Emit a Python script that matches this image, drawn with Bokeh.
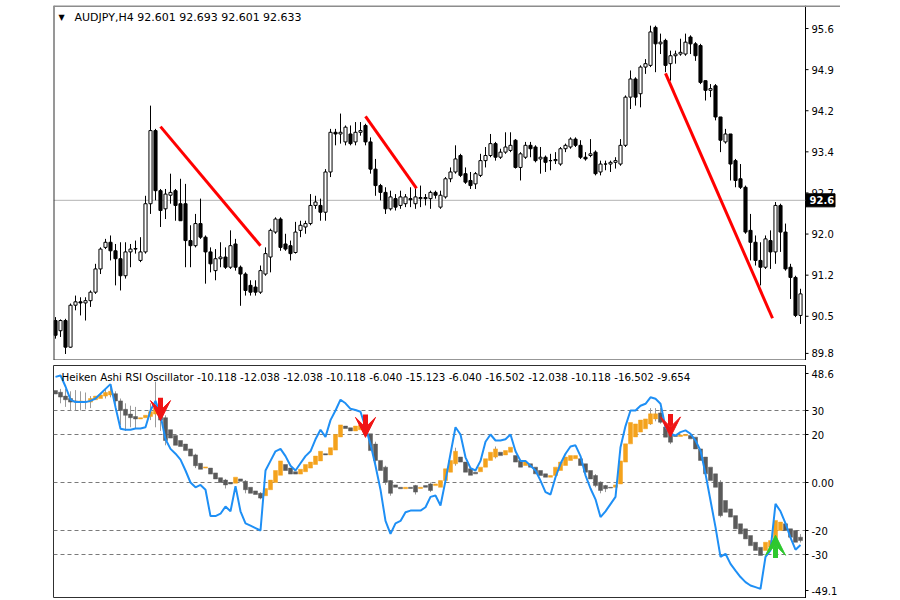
from bokeh.plotting import figure
from bokeh.models import (Range1d, FixedTicker, Span, Label, Arrow, VeeHead,
                          ColumnDataSource)
from bokeh.core.properties import value
from bokeh.layouts import column
from bokeh.embed import file_html
from bokeh.resources import INLINE

# ---------------- price data (AUDJPY H4) ----------------
opens = [90.45, 90.27, 90.45, 89.98, 90.72, 90.78, 90.76, 90.80, 90.95, 91.36,
         91.74, 91.83, 91.68, 91.54, 91.24, 91.66, 91.71, 91.51, 91.66, 92.51,
         93.80, 92.74, 92.42, 92.66, 92.74, 92.51, 92.51, 91.86, 91.77, 92.16,
         91.92, 91.66, 91.33, 91.54, 91.57, 91.39, 91.80, 91.39, 91.27, 91.07,
         91.04, 90.95, 91.27, 91.57, 92.01, 92.24, 91.80, 91.77, 91.65, 92.04,
         92.10, 92.16, 92.48, 92.48, 92.36, 93.07, 93.77, 93.74, 93.60, 93.74,
         93.60, 93.77, 93.89, 93.60, 93.12, 92.83, 92.71, 92.42, 92.60, 92.48,
         92.51, 92.60, 92.51, 92.60, 92.62, 92.60, 92.71, 92.45, 92.63, 92.95,
         93.07, 93.36, 93.04, 92.92, 92.86, 93.01, 93.27, 93.36, 93.57, 93.33,
         93.42, 93.45, 93.63, 93.15, 93.33, 93.54, 93.51, 93.30, 93.33, 93.27,
         93.27, 93.21, 93.48, 93.51, 93.65, 93.54, 93.33, 93.36, 93.42, 93.07,
         93.21, 93.21, 93.24, 93.21, 93.54, 94.39, 94.71, 94.45, 94.92, 94.95,
         95.62, 95.33, 95.39, 94.98, 95.12, 95.15, 95.15, 95.45, 95.33, 95.30,
         94.68, 94.51, 94.59, 94.04, 93.60, 93.74, 93.27, 92.95, 92.80, 92.04,
         91.83, 91.51, 91.39, 91.86, 91.66, 92.48, 92.01, 91.39, 91.21, 90.54]
highs = [90.51, 90.47, 90.48, 90.75, 90.89, 90.86, 90.86, 90.98, 91.45, 91.74,
         91.89, 91.95, 91.80, 91.83, 91.83, 91.80, 91.86, 91.92, 92.65, 94.24,
         93.83, 92.77, 92.77, 93.04, 92.77, 92.95, 92.86, 92.13, 92.33, 92.60,
         91.95, 91.74, 91.71, 91.83, 91.74, 92.04, 91.89, 91.42, 91.30, 91.16,
         91.16, 91.42, 91.74, 92.07, 92.27, 92.27, 91.98, 91.86, 92.19, 92.21,
         92.21, 92.68, 92.65, 92.60, 93.12, 93.83, 93.83, 94.10, 93.89, 93.89,
         93.95, 93.95, 93.92, 93.68, 93.30, 92.86, 92.80, 92.74, 92.68, 92.74,
         92.68, 92.80, 92.80, 92.83, 92.68, 92.74, 92.74, 92.74, 92.98, 93.15,
         93.54, 93.39, 93.15, 93.07, 93.07, 93.39, 93.51, 93.74, 93.60, 93.48,
         93.77, 93.77, 93.65, 93.42, 93.60, 93.60, 93.54, 93.51, 93.36, 93.39,
         93.42, 93.51, 93.57, 93.68, 93.68, 93.63, 93.42, 93.65, 93.45, 93.27,
         93.27, 93.27, 93.33, 93.65, 94.42, 94.86, 94.74, 94.95, 95.06, 95.65,
         95.65, 95.51, 95.42, 95.21, 95.21, 95.42, 95.51, 95.48, 95.36, 95.33,
         94.68, 94.62, 94.62, 94.04, 93.83, 93.74, 93.30, 93.21, 92.83, 92.33,
         91.95, 91.83, 91.95, 92.04, 92.54, 92.51, 92.16, 91.45, 91.24, 91.01]
lows = [90.13, 90.16, 89.86, 89.97, 90.63, 90.54, 90.45, 90.69, 90.92, 91.27,
        91.71, 91.51, 91.07, 90.98, 91.19, 91.39, 91.63, 91.48, 91.63, 92.33,
        92.57, 92.10, 92.24, 92.51, 92.21, 92.21, 91.39, 91.39, 91.74, 91.89,
        91.10, 91.30, 91.16, 91.39, 91.36, 91.36, 91.33, 90.71, 90.89, 90.89,
        90.89, 90.92, 91.24, 91.30, 91.98, 91.68, 91.68, 91.51, 91.63, 91.92,
        91.98, 92.13, 92.42, 92.21, 92.21, 92.98, 93.54, 93.57, 93.54, 93.54,
        93.54, 93.71, 93.54, 93.04, 92.65, 92.57, 92.33, 92.39, 92.39, 92.42,
        92.45, 92.45, 92.42, 92.45, 92.48, 92.42, 92.60, 92.42, 92.60, 92.89,
        93.04, 92.98, 92.86, 92.77, 92.77, 92.98, 93.15, 93.33, 93.27, 93.30,
        93.39, 93.42, 93.13, 92.92, 93.30, 93.33, 93.24, 93.04, 93.07, 93.10,
        93.21, 93.18, 93.42, 93.48, 93.51, 93.30, 93.27, 93.33, 93.01, 93.01,
        93.10, 93.07, 93.13, 93.18, 93.51, 94.18, 94.24, 94.21, 94.80, 94.92,
        94.83, 95.15, 94.83, 94.68, 94.98, 95.12, 95.12, 95.15, 95.03, 94.62,
        94.33, 94.39, 93.98, 93.42, 93.57, 92.92, 92.80, 92.77, 91.98, 91.51,
        91.42, 91.07, 91.36, 91.36, 91.45, 91.66, 91.33, 90.83, 90.51, 90.39]
closes = [90.19, 90.45, 89.98, 90.72, 90.78, 90.76, 90.80, 90.95, 91.36, 91.71,
          91.83, 91.68, 91.54, 91.24, 91.66, 91.71, 91.72, 91.66, 92.51, 93.80,
          92.74, 92.39, 92.68, 92.71, 92.48, 92.21, 91.86, 91.77, 92.16, 91.92,
          91.66, 91.45, 91.54, 91.57, 91.39, 91.77, 91.39, 91.27, 90.98, 90.95,
          90.95, 91.33, 91.63, 92.04, 92.24, 91.74, 91.71, 91.63, 92.01, 92.13,
          92.16, 92.48, 92.54, 92.36, 93.07, 93.77, 93.74, 93.77, 93.86, 93.57,
          93.77, 93.80, 93.60, 93.12, 92.83, 92.71, 92.42, 92.63, 92.45, 92.63,
          92.63, 92.58, 92.63, 92.62, 92.60, 92.71, 92.66, 92.66, 92.95, 93.07,
          93.30, 93.01, 92.89, 92.83, 93.04, 93.27, 93.36, 93.57, 93.33, 93.42,
          93.51, 93.54, 93.15, 93.39, 93.54, 93.48, 93.27, 93.33, 93.24, 93.27,
          93.29, 93.48, 93.54, 93.65, 93.54, 93.33, 93.30, 93.39, 93.04, 93.21,
          93.21, 93.24, 93.27, 93.54, 94.39, 94.71, 94.39, 94.92, 94.98, 95.54,
          95.33, 95.36, 94.95, 95.12, 95.15, 95.18, 95.36, 95.33, 95.12, 94.65,
          94.51, 94.54, 94.04, 93.63, 93.74, 93.21, 92.92, 92.80, 92.01, 91.83,
          91.51, 91.39, 91.89, 91.66, 92.48, 92.01, 91.36, 91.21, 90.54, 90.92]

price_ticks = [89.87, 90.525, 91.25, 91.975, 92.7, 93.425, 94.15, 94.875, 95.6]
price_tick_labels = ["89.8", "90.5", "91.2", "92.0", "92.7", "93.4", "94.2", "94.9", "95.6"]
last_price = 92.57
last_price_label = "92.6"

# analyst trend lines (bar index, price)
trend_x0 = [21, 62, 122]
trend_y0 = [93.87, 94.05, 94.81]
trend_x1 = [41, 72.2, 143.4]
trend_y1 = [91.77, 92.78, 90.49]

# ---------------- Heiken Ashi RSI oscillator ----------------
ha_open = [38.3, 37.6, 36.0, 35.0, 34.0, 33.5, 33.8, 33.5, 34.5, 35.0,
           36.0, 36.5, 37.0, 34.0, 30.5, 28.5, 27.5, 26.5, 27.0, 27.5,
           28.5, 30.0, 27.0, 22.0, 19.6, 17.5, 16.0, 14.0, 11.5, 8.0,
           6.0, 6.0, 4.0, 2.0, 1.0, 0.0, -0.3, 1.5, 0.5, -2.0,
           -3.5, -4.5, -5.5, -3.0, 0.0, 3.0, 7.5, 6.0, 4.5, 3.5,
           4.5, 6.0, 7.5, 9.0, 12.0, 11.5, 13.5, 19.0, 23.5, 22.8,
           21.5, 22.0, 22.5, 20.3, 16.0, 9.2, 6.4, 0.8, -1.0, -2.0,
           -2.6, -2.0, -1.3, -2.5, -1.3, -0.6, -1.3, -2.0, 0.8, 4.3,
           7.8, 10.6, 8.5, 5.7, 4.3, 4.5, 6.4, 9.2, 10.6, 12.6,
           11.5, 12.6, 11.2, 9.2, 7.1, 7.8, 6.4, 5.0, 3.6, 2.2,
           2.9, 5.0, 7.1, 9.2, 9.9, 9.9, 7.8, 5.0, 2.9, 0.1,
           -1.3, -2.0, -2.0, -0.6, 8.5, 16.1, 19.0, 21.0, 22.4, 24.4,
           26.5, 29.0, 23.1, 20.3, 19.6, 19.2, 19.5, 19.6, 18.9, 14.0,
           10.6, 6.4, 3.6, 0.1, -7.5, -11.0, -13.8, -17.2, -19.3, -22.1,
           -24.9, -27.0, -28.3, -27.0, -26.3, -20.0, -17.2, -19.3, -20.0, -22.8]
ha_close = [36.9, 35.6, 34.5, 33.5, 33.5, 34.0, 33.6, 35.0, 36.0, 36.5,
            37.5, 38.0, 34.0, 30.0, 28.0, 27.0, 26.5, 27.0, 28.0, 29.5,
            31.0, 26.0, 17.5, 18.5, 15.5, 15.0, 13.3, 11.0, 7.0, 5.5,
            6.5, 3.5, 1.5, 0.0, -1.0, -0.6, 2.2, 0.5, -3.0, -4.5,
            -5.0, -6.5, -2.5, 1.0, 5.0, 9.0, 5.0, 3.5, 3.5, 5.5,
            7.5, 8.5, 11.0, 13.0, 11.5, 14.5, 20.0, 24.0, 22.5, 21.5,
            23.5, 24.0, 21.5, 13.3, 9.2, 5.0, 0.1, -4.5, -2.0, -2.6,
            -2.0, -2.5, -4.0, -2.0, -2.0, -3.3, -0.6, 0.8, 5.7, 9.2,
            13.0, 8.5, 4.3, 3.0, 3.6, 6.4, 9.9, 12.6, 14.0, 11.2,
            13.3, 14.7, 8.5, 6.4, 8.5, 6.4, 3.6, 2.9, 2.2, 2.9,
            6.4, 8.5, 10.6, 11.2, 11.2, 7.1, 4.3, 1.5, -1.3, -3.3,
            -2.6, -2.3, -1.0, 9.0, 16.1, 25.0, 24.4, 26.0, 26.5, 28.6,
            28.6, 25.1, 18.9, 16.8, 19.2, 19.8, 20.0, 18.2, 14.0, 9.2,
            3.6, 0.8, -2.0, -13.8, -12.4, -14.4, -19.3, -21.4, -23.5, -26.3,
            -28.3, -30.4, -24.9, -24.2, -15.8, -16.5, -20.0, -22.8, -24.9, -24.2]
# visible HA wicks (bar index, high, low)
wick_idx = [1, 2, 3, 4, 5, 6, 7, 10, 11, 12, 13, 14, 15, 16, 19, 20, 21, 22, 28,
            34, 38, 41, 64, 66, 67, 72, 75, 80, 88, 108, 109, 110, 119, 120, 121,
            123, 133, 149]
wick_hi = [39, 39, 38, 38.5, 38, 37.5, 36, 39, 40.5, 38, 35, 33, 32, 31.5, 33, 42,
           31, 28, 12, 1.5, 1, -4, 17, 7, 1, -1, 0, 14.5, 15, 3.5, 0.5, -1, 31, 31,
           31, 21, 1, -21.5]
wick_lo = [33, 31.5, 30, 30, 30, 30.5, 31, 35, 35.5, 30, 24, 21.5, 23, 22.5, 26, 23,
           21.5, 15.5, 6, -2.5, -4.5, -7, 8, -1, -5.5, -5, -4, 7, 10, -2, -4.5, -4,
           24, 25.5, 24.5, 16, -14.5, -25]

rsi = [44.0, 44.6, 40.0, 34.5, 33.5, 33.5, 33.5, 34.0, 35.0, 37.0,
       39.0, 41.0, 31.4, 22.4, 22.0, 22.0, 22.5, 22.5, 23.0, 30.0,
       34.0, 28.0, 18.0, 14.0, 12.0, 9.5, 5.0, 0.0, -2.0, -1.0,
       -3.0, -14.0, -14.0, -13.0, -10.0, -12.0, -1.5, -12.0, -17.0, -18.0,
       -19.0, -20.0, 5.0, 9.0, 13.0, 14.0, 11.0, 7.0, 5.0, 8.0,
       11.0, 13.0, 18.0, 22.0, 19.0, 26.0, 30.0, 34.5, 33.0, 30.7,
       30.2, 29.5, 23.0, 16.0, 7.0, -3.0, -16.0, -21.4, -17.0, -16.0,
       -12.4, -11.7, -11.7, -11.7, -10.3, -6.0, -5.4, -9.6, 0.8, 12.0,
       23.0, 20.0, 10.5, 6.0, 5.0, 9.0, 17.0, 20.0, 17.5, 17.5,
       18.0, 20.0, 13.0, 9.0, 9.0, 7.0, 5.0, 0.8, -4.0, -5.0,
       2.2, 7.8, 12.0, 15.0, 15.5, 11.0, 3.0, -2.5, -7.0, -14.4,
       -12.0, -9.0, -6.0, 14.7, 23.5, 30.0, 30.0, 32.0, 32.8, 35.5,
       34.9, 32.8, 23.0, 20.3, 19.6, 21.0, 21.7, 20.3, 17.5, 13.3,
       3.6, -7.5, -18.6, -31.0, -29.7, -33.9, -36.7, -39.4, -41.5, -42.9,
       -43.6, -44.3, -31.0, -28.3, -8.9, -12.0, -17.0, -23.0, -28.0, -26.0]

levels = [30, 20, 0, -20, -30]
sell_idx = [21, 62, 123]
sell_val = [25.8, 18.8, 19.0]
buy_idx = [144]
buy_val = [-22.0]
osc_ticks = [45.4, 30, 20, 0, -20, -30, -45.2]
osc_tick_labels = ["48.6", "30", "20", "0.00", "-20", "-30", "-49.1"]

title_top = "AUDJPY,H4  92.601 92.693 92.601 92.633"
title_osc = ("Heiken Ashi RSI Oscillator -10.118 -12.038 -12.038 -10.118 -6.040 "
             "-15.123 -6.040 -16.502 -12.038 -10.118 -16.502 -9.654")

# ---------------- styling ----------------
FONT = "DejaVu Sans"
N = len(closes)
idx = list(range(N))
BAR_PX = 5.0
X0 = -0.4
X_AXIS_AT = 150.0                    # data x where the price scale sits
P1_YR = (89.745, 96.006)
P2_YR = (-48.33, 48.75)
AXIS_PX = 35                         # width of the price-scale strip

# ---------------- top panel (price scale drawn inside frame) ----------------
p1 = figure(frame_width=int((X_AXIS_AT - X0) * BAR_PX) + AXIS_PX, frame_height=355,
            x_range=Range1d(X0, X_AXIS_AT + AXIS_PX / BAR_PX),
            y_range=Range1d(*P1_YR), output_backend="svg",
            toolbar_location=None, y_axis_location=None, x_axis_location=None,
            min_border_left=53, min_border_top=5, min_border_bottom=0,
            min_border_right=0, background_fill_color="white")
p1.grid.visible = False
p1.outline_line_color = None

# frame edges of the chart window
p1.add_layout(Span(location=X0, dimension="height", line_color="#303030", line_width=2))
p1.add_layout(Span(location=P1_YR[1], dimension="width", line_color="#8c8c8c", line_width=3))
p1.segment([X0], [P1_YR[0]], [X_AXIS_AT], [P1_YR[0]], line_color="#303030", line_width=2)
p1.segment([X_AXIS_AT], [P1_YR[0]], [X_AXIS_AT], [P1_YR[1]], line_color="black", line_width=1)

# last price line
p1.segment([X0], [last_price], [X_AXIS_AT], [last_price], line_color="#b4b4b4", line_width=1)

src = ColumnDataSource(dict(
    x=idx, o=opens, h=highs, l=lows, c=closes,
    top=[max(a, b) for a, b in zip(opens, closes)],
    bot=[min(a, b) for a, b in zip(opens, closes)],
    fill=["white" if c >= o else "black" for o, c in zip(opens, closes)],
))
p1.segment("x", "h", "x", "l", source=src, line_color="black", line_width=1)
p1.vbar(x="x", width=0.62, top="top", bottom="bot", source=src,
        fill_color="fill", line_color="black", line_width=1)

p1.segment(trend_x0, trend_y0, trend_x1, trend_y1, line_color="#ff0000",
           line_width=3)

# price scale: ticks + labels
tick_x0 = [X_AXIS_AT] * len(price_ticks)
tick_x1 = [X_AXIS_AT + 3 / BAR_PX] * len(price_ticks)
p1.segment(tick_x0, price_ticks, tick_x1, price_ticks, line_color="black", line_width=1)
p1.text(x=[X_AXIS_AT + 6 / BAR_PX] * len(price_ticks), y=price_ticks,
        text=price_tick_labels, text_font=value(FONT), text_font_size="10px",
        text_color="black", text_align="left", text_baseline="middle")

# last price marker box on the scale
p1.rect(x=[X_AXIS_AT + 15 / BAR_PX], y=[last_price], width=29, height=13,
        width_units="screen", height_units="screen", fill_color="black",
        line_color="black")
p1.text(x=[X_AXIS_AT + 4 / BAR_PX], y=[last_price], text=[last_price_label],
        text_font=value(FONT), text_font_size="10px", text_font_style="bold",
        text_color="white", text_align="left", text_baseline="middle")

p1.add_layout(Label(x=X0, y=P1_YR[1], x_offset=5, y_offset=-12, text="▼",
                    text_font=FONT, text_font_size="8px", text_color="black",
                    text_baseline="middle"))
p1.add_layout(Label(x=X0, y=P1_YR[1], x_offset=21, y_offset=-12, text=title_top,
                    text_font=FONT, text_font_size="11px", text_color="black",
                    text_baseline="middle"))

# ---------------- oscillator panel ----------------
p2 = figure(frame_width=int((X_AXIS_AT - X0) * BAR_PX), frame_height=233,
            x_range=Range1d(X0, X_AXIS_AT), y_range=Range1d(*P2_YR),
            output_backend="svg", toolbar_location=None,
            y_axis_location="right", x_axis_location=None,
            min_border_left=53, min_border_top=5, min_border_bottom=0,
            min_border_right=40, background_fill_color="white")
p2.grid.visible = False
p2.outline_line_color = "#303030"
ax = p2.yaxis[0]
ax.ticker = FixedTicker(ticks=osc_ticks)
ax.major_label_overrides = dict(zip(osc_ticks, osc_tick_labels))
ax.axis_line_color = "black"
ax.major_tick_line_color = "black"
ax.major_tick_out = 3
ax.major_tick_in = 0
ax.minor_tick_line_color = None
ax.major_label_text_font = FONT
ax.major_label_text_font_size = "10px"
ax.major_label_text_color = "black"
ax.major_label_standoff = 3

for lv in levels:
    p2.add_layout(Span(location=lv, dimension="width", line_color="#7a7a7a",
                       line_width=1, line_dash="4 3", level="underlay"))

p2.segment(wick_idx, wick_hi, wick_idx, wick_lo, line_color="#9a9a9a",
           line_width=1)
hsrc = ColumnDataSource(dict(
    x=idx,
    top=[max(a, b) for a, b in zip(ha_open, ha_close)],
    bot=[min(a, b) for a, b in zip(ha_open, ha_close)],
    fill=["#f4a21c" if c >= o else "#5a5a5a" for o, c in zip(ha_open, ha_close)],
))
p2.vbar(x="x", width=0.8, top="top", bottom="bot", source=hsrc,
        fill_color="fill", line_color="fill", line_width=0.5)

p2.line(idx, rsi, line_color="#1e8ff5", line_width=2)

ARROW_LEN = 9.5
for xi, v in zip(sell_idx, sell_val):
    p2.add_layout(Arrow(x_start=xi, y_start=v + ARROW_LEN, x_end=xi, y_end=v,
                        line_color="#f01414", line_width=5,
                        end=VeeHead(size=20, fill_color="#f01414",
                                    line_color="#f01414")))
for xi, v in zip(buy_idx, buy_val):
    p2.add_layout(Arrow(x_start=xi, y_start=v - ARROW_LEN, x_end=xi, y_end=v,
                        line_color="#2ec82e", line_width=5,
                        end=VeeHead(size=20, fill_color="#2ec82e",
                                    line_color="#2ec82e")))

p2.add_layout(Label(x=X0, y=P2_YR[1], x_offset=8, y_offset=-11, text=title_osc,
                    text_font=FONT, text_font_size="10.3px", text_color="black",
                    text_baseline="middle"))

layout = column(p1, p2, spacing=0)
open("out.html", "w").write(file_html(layout, INLINE))
